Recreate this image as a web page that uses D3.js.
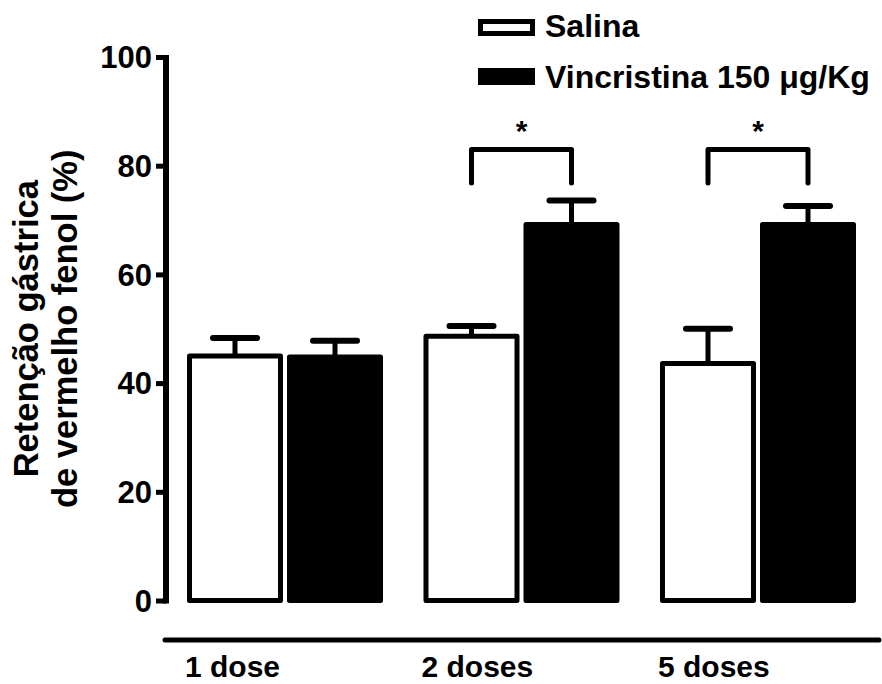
<!DOCTYPE html>
<html>
<head>
<meta charset="utf-8">
<script src="https://cdn.jsdelivr.net/npm/d3@7"></script>
<style>
  html, body { margin: 0; padding: 0; background: #fff; }
  svg { display: block; font-family: "Liberation Sans", Arial, sans-serif; font-weight: bold; }
</style>
</head>
<body>
<svg id="chart" width="882" height="684"></svg>
<script>
// Gastric retention of phenol red (%) — mean and SEM per treatment
const groups = ["1 dose", "2 doses", "5 doses"];
const series = ["Salina", "Vincristina 150 \u03bcg/Kg"];
const salinaMean = [45.0, 48.6, 43.6];
const salinaSem = [3.3, 1.9, 6.4];
const vincMean = [44.8, 69.2, 69.2];
const vincSem = [3.0, 4.4, 3.4];
const yTicks = [0, 20, 40, 60, 80, 100];
const yTickLabels = ["0", "20", "40", "60", "80", "100"];
// groups where the two treatments differ significantly
const sigGroups = ["2 doses", "5 doses"];
const sigBracket = { top: 83, foot: 76.8 };

const svg = d3.select("#chart");

const y = d3.scaleLinear().domain([0, 100]).range([600.5, 57]);
const x = d3.scaleBand().domain(groups).range([166, 877])
  .paddingInner(0.1712).paddingOuter(0.0888);
const xs = d3.scaleBand().domain(series).range([0, x.bandwidth()]).paddingInner(0.04);

const rows = [];
groups.forEach((g, i) => {
  rows.push({ group: g, series: series[0], mean: salinaMean[i], sem: salinaSem[i] });
  rows.push({ group: g, series: series[1], mean: vincMean[i], sem: vincSem[i] });
});
const fillOf = s => s === series[0] ? "#fff" : "#000";
const cx = d => x(d.group) + xs(d.series) + xs.bandwidth() / 2;

// bars (outlined, 5px stroke)
const sw = 5;
svg.append("g").selectAll("rect").data(rows).join("rect")
  .attr("x", d => x(d.group) + xs(d.series) + sw / 2)
  .attr("width", xs.bandwidth() - sw)
  .attr("y", d => y(d.mean))
  .attr("height", d => y(0) - y(d.mean))
  .attr("fill", d => fillOf(d.series))
  .attr("stroke", "#000")
  .attr("stroke-width", sw)
  .attr("stroke-linejoin", "round");

// upward SEM error bars
const eb = svg.append("g").attr("stroke", "#000").attr("stroke-linecap", "round");
eb.selectAll("line.stem").data(rows).join("line").attr("class", "stem")
  .attr("x1", cx).attr("x2", cx)
  .attr("y1", d => y(d.mean)).attr("y2", d => y(d.mean + d.sem))
  .attr("stroke-width", 5).attr("stroke-linecap", "butt");
eb.selectAll("line.cap").data(rows).join("line").attr("class", "cap")
  .attr("x1", d => cx(d) - 22).attr("x2", d => cx(d) + 22)
  .attr("y1", d => y(d.mean + d.sem)).attr("y2", d => y(d.mean + d.sem))
  .attr("stroke-width", 6);

// significance brackets with asterisks
const sig = svg.append("g");
sigGroups.forEach(g => {
  const a = x(g) + xs(series[0]) + xs.bandwidth() / 2;
  const b = x(g) + xs(series[1]) + xs.bandwidth() / 2;
  sig.append("path")
    .attr("d", d3.line()([[a, y(sigBracket.foot)], [a, y(sigBracket.top)], [b, y(sigBracket.top)], [b, y(sigBracket.foot)]]))
    .attr("fill", "none").attr("stroke", "#000").attr("stroke-width", 5)
    .attr("stroke-linecap", "round").attr("stroke-linejoin", "round");
  sig.append("text")
    .attr("x", (a + b) / 2).attr("y", y(sigBracket.top) - 8)
    .attr("text-anchor", "middle").attr("font-size", 30).text("*");
});

// y axis: ticks and labels from d3.axisLeft, heavy spine drawn as a filled rect
const axisX = 166;
const yAxis = svg.append("g").attr("transform", `translate(${axisX},0)`)
  .call(d3.axisLeft(y).tickValues(yTicks).tickFormat((d, i) => yTickLabels[i])
    .tickSize(10).tickSizeOuter(0).tickPadding(4));
yAxis.select(".domain").remove();
yAxis.selectAll(".tick line").remove();
yAxis.selectAll(".tick").append("rect")
  .attr("x", -10).attr("y", -2.5).attr("width", 10).attr("height", 5).attr("fill", "#000");
yAxis.selectAll(".tick text").attr("font-size", 31).attr("font-family", null)
  .attr("fill", "#000").attr("dy", "0.35em");
svg.append("rect")
  .attr("x", axisX - 3).attr("width", 6)
  .attr("y", y(100) - 2).attr("height", y(0) - y(100) + 5)
  .attr("fill", "#000");

// x axis baseline, detached below the bars
svg.append("line")
  .attr("x1", 165).attr("x2", 879).attr("y1", 640).attr("y2", 640)
  .attr("stroke", "#000").attr("stroke-width", 5).attr("stroke-linecap", "round");
svg.append("g").selectAll("text").data(groups).join("text")
  .attr("x", g => x(g) + xs(series[0]) - 2)
  .attr("y", 677)
  .attr("text-anchor", "start").attr("font-size", 30)
  .text(g => g);

// y axis title
const yt = svg.append("text")
  .attr("transform", `translate(0,${(y(0) + y(100)) / 2}) rotate(-90)`)
  .attr("text-anchor", "middle").attr("font-size", 34.5);
yt.append("tspan").attr("x", 0).attr("y", 38).text("Reten\u00e7\u00e3o g\u00e1strica");
yt.append("tspan").attr("x", 0).attr("y", 77).text("de vermelho fenol (%)");

// legend
const lg = svg.append("g");
series.forEach((s, i) => {
  const top = [19, 68][i];
  lg.append("rect")
    .attr("x", 480.5).attr("y", top + 2.5).attr("width", 52).attr("height", 12)
    .attr("fill", fillOf(s)).attr("stroke", "#000").attr("stroke-width", 5);
  lg.append("text").attr("x", 545).attr("y", [37, 88][i])
    .attr("font-size", 32).text(s);
});
</script>
</body>
</html>
